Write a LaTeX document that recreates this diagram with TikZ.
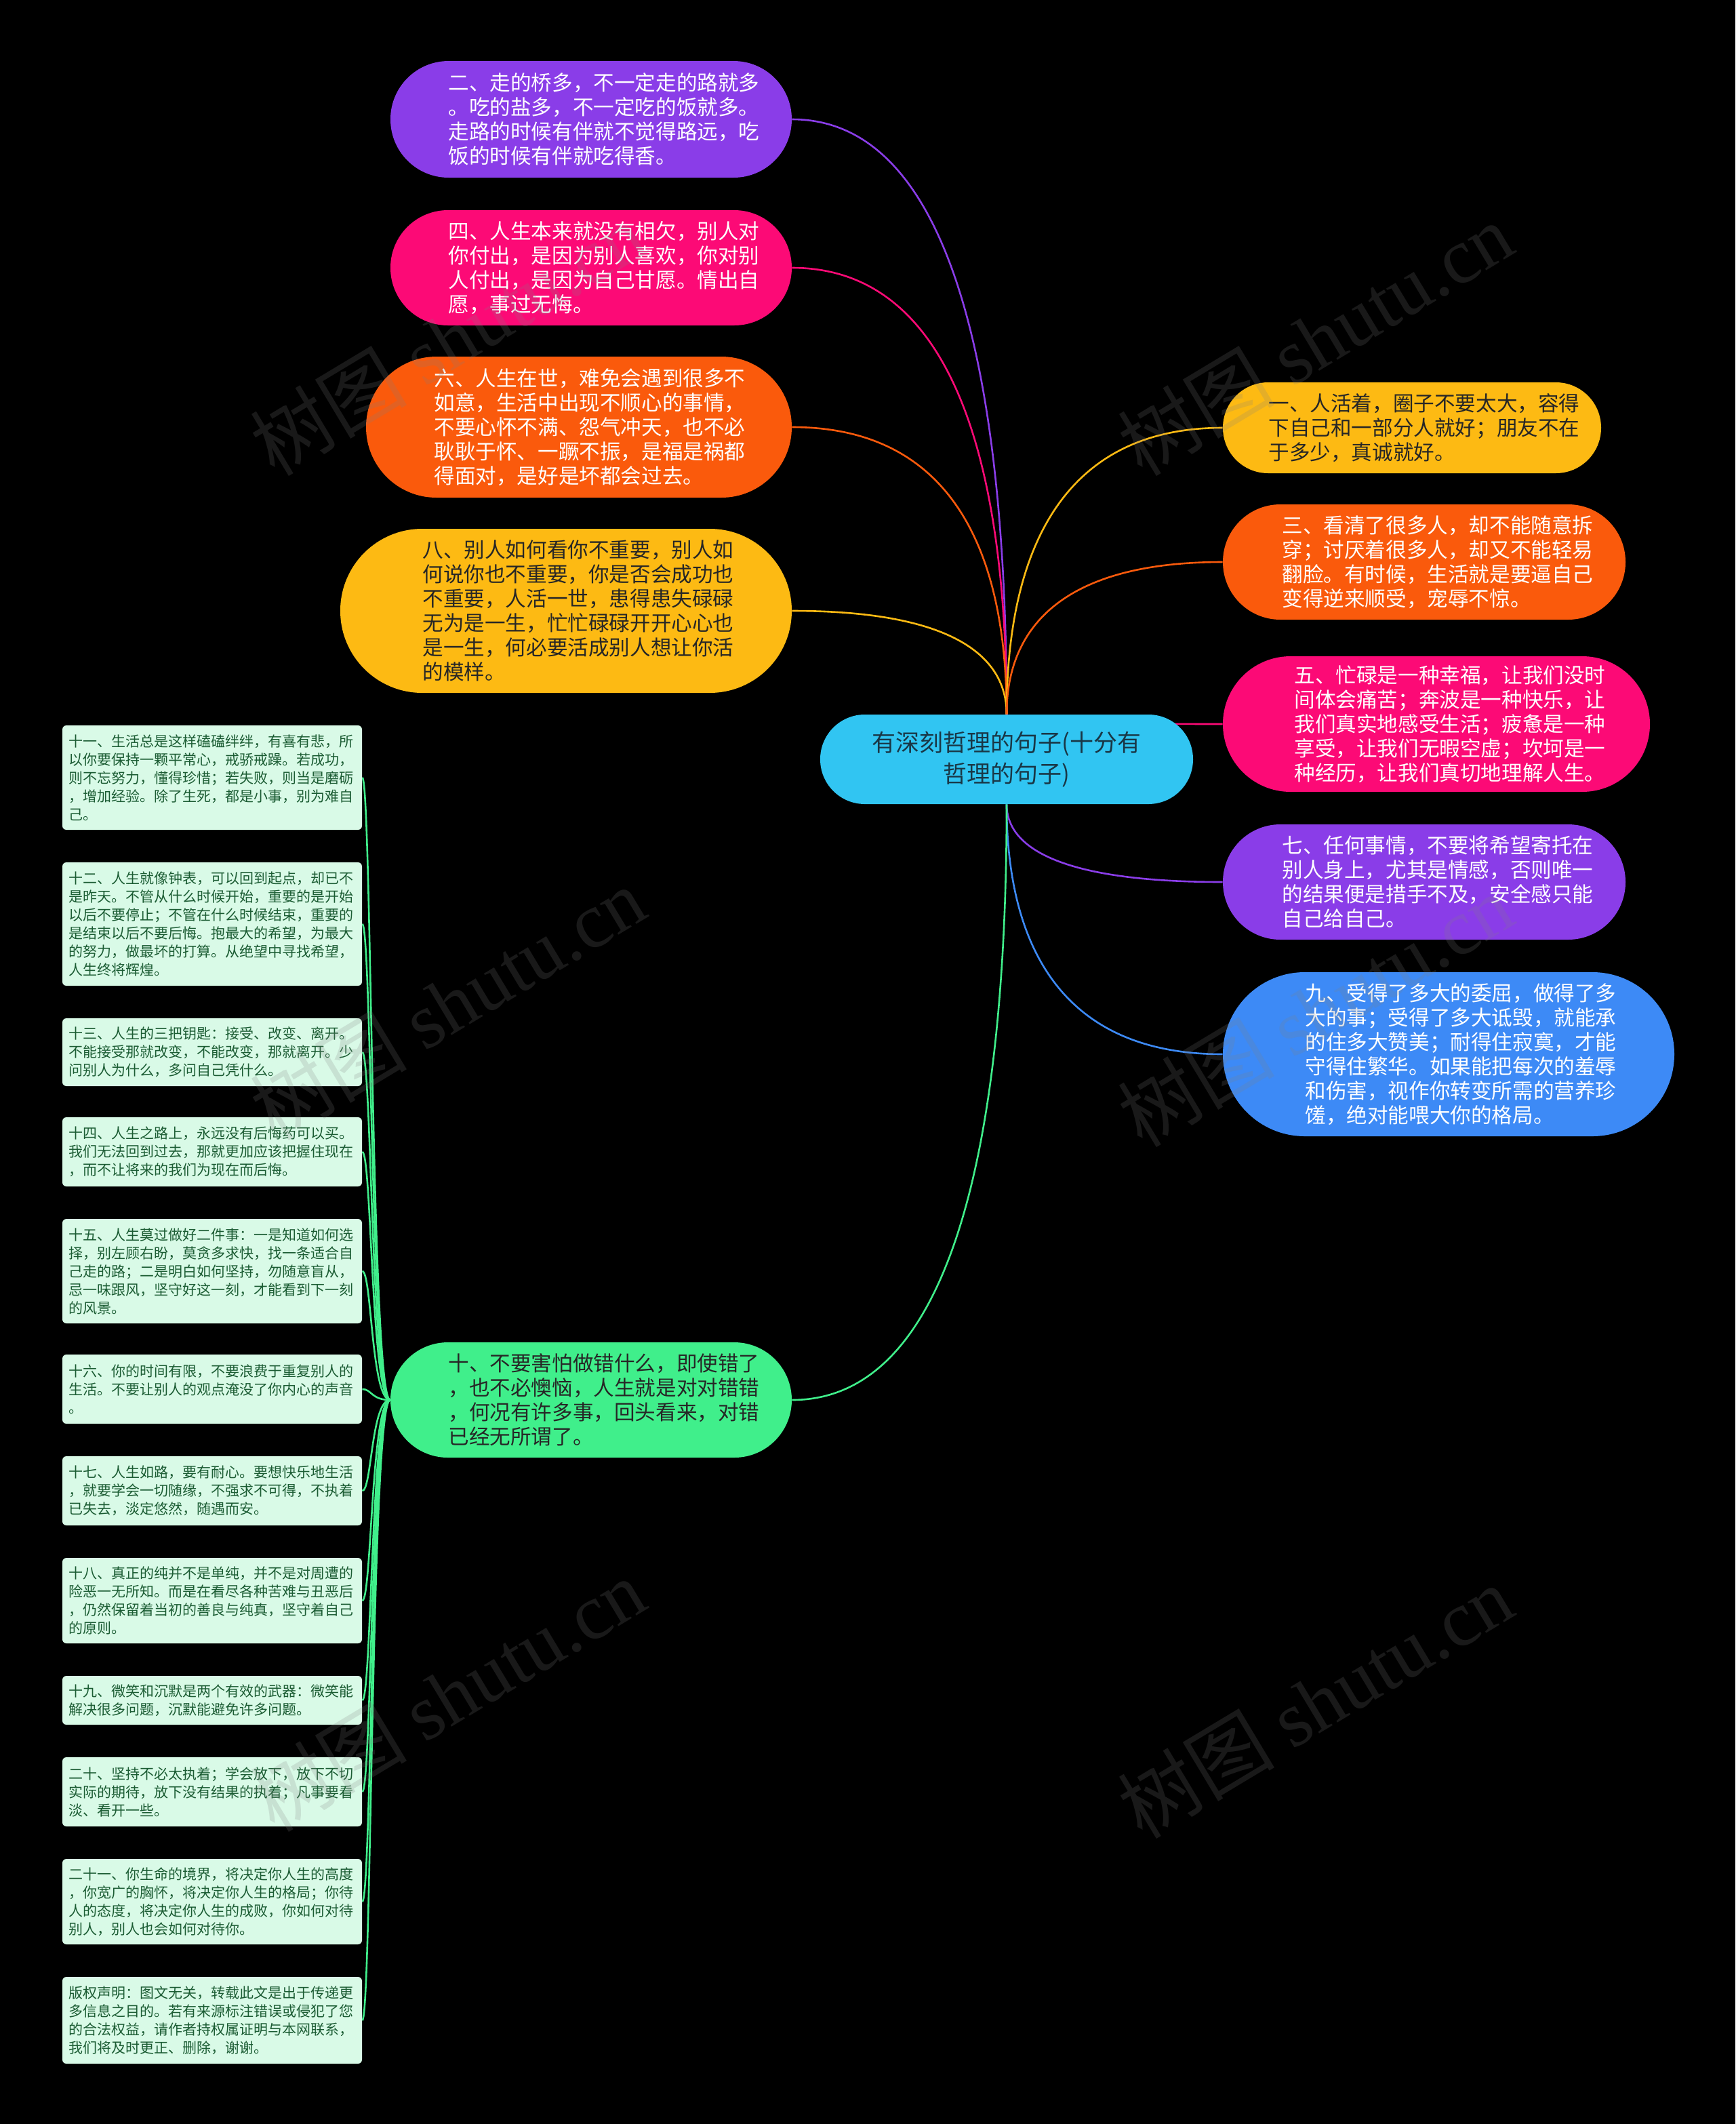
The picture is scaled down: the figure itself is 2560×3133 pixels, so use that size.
\documentclass[tikz,border=0pt]{standalone}
\usepackage{fontspec}
\setmainfont{Noto Sans CJK SC}
\newfontfamily\cjk{Noto Sans CJK SC}
\newfontfamily\wmser{Liberation Serif}
\usetikzlibrary{calc}
\pgfdeclarelayer{back}
\pgfdeclarelayer{bg}
\pgfdeclarelayer{fg}
\pgfsetlayers{back,bg,main,fg}
\definecolor{cPur}{HTML}{8A3DE8}
\definecolor{cPink}{HTML}{FC0A76}
\definecolor{cOra}{HTML}{FA5A0C}
\definecolor{cYel}{HTML}{FDBA13}
\definecolor{cBlue}{HTML}{3D8AF6}
\definecolor{cGrn}{HTML}{40EF8B}
\definecolor{cCyan}{HTML}{31C5F2}
\definecolor{cMint}{HTML}{D9FAE7}
\definecolor{cDkG}{HTML}{1B5C33}
\definecolor{cDark}{HTML}{262626}
\definecolor{cNavy}{HTML}{193746}
\tikzset{
  bub/.style={inner sep=0pt, draw=none},
  btxt/.style={font=\cjk\fontsize{15.3}{18}\selectfont, align=left, inner sep=0pt},
  sbox/.style={fill=cMint, rounded corners=3pt, minimum width=221pt, text width=212pt,
     inner xsep=4.5pt, inner ysep=0pt, align=left, text=cDkG,
     font=\cjk\fontsize{10.5}{13.5}\selectfont},
  conn/.style={line width=1.3pt},
  wmark/.style={rotate=31, opacity=0.2, text=gray, font=\fontsize{58}{60}\selectfont, inner sep=0pt}
}
\newcommand{\mconn}[3]{%
  \path ($(#2)!0.2!(#3)$) coordinate (ca) ($(#2)!0.5!(#2 |- #3)$) coordinate (cb);
  \draw[conn, #1] (#2) .. controls (cb) and (ca |- #3) .. (#3);}
\newcommand{\sconn}[1]{%
  \draw[conn, cGrn] (b10.west) .. controls ($(b10.west)+(-28,0)$) and ($(#1.east)+(14,0)$) .. (#1.east);}
\begin{document}
\begin{tikzpicture}[x=0.5pt, y=-0.5pt]
\useasboundingbox (0,0) rectangle (2560,3133);
\begin{pgfonlayer}{back}
\fill[black] (0,0) rectangle (2560,3133);
\end{pgfonlayer}

% central node
\node[bub, fill=cCyan, minimum width=275pt, minimum height=66pt, rounded corners=32.9pt,
      text=cNavy, align=center, font=\cjk\fontsize{17.5}{23}\selectfont] (ctr) at (1485,1120)
  {有深刻哲理的句子(十分有\\哲理的句子)};

% left bubbles
\node[bub, fill=cPur, minimum width=296pt, minimum height=86pt, rounded corners=42.9pt] (b2) at (872,176) {};
\node[btxt, text=white] (b2t) at ($(b2)+(19,0)$) {二、走的桥多，不一定走的路就多\\。吃的盐多，不一定吃的饭就多。\\走路的时候有伴就不觉得路远，吃\\饭的时候有伴就吃得香。};

\node[bub, fill=cPink, minimum width=296pt, minimum height=85pt, rounded corners=42.4pt] (b4) at (872,395) {};
\node[btxt, text=white] (b4t) at ($(b4)+(19,0)$) {四、人生本来就没有相欠，别人对\\你付出，是因为别人喜欢，你对别\\人付出，是因为自己甘愿。情出自\\愿，事过无悔。};

\node[bub, fill=cOra, minimum width=314pt, minimum height=104pt, rounded corners=51.9pt] (b6) at (854,630) {};
\node[btxt, text=white] (b6t) at ($(b6)+(16,0)$) {六、人生在世，难免会遇到很多不\\如意，生活中出现不顺心的事情，\\不要心怀不满、怨气冲天，也不必\\耿耿于怀、一蹶不振，是福是祸都\\得面对，是好是坏都会过去。};

\node[bub, fill=cYel, minimum width=333pt, minimum height=121pt, rounded corners=60.4pt] (b8) at (835,901) {};
\node[btxt, text=cDark] (b8t) at ($(b8)+(18,0)$) {八、别人如何看你不重要，别人如\\何说你也不重要，你是否会成功也\\不重要，人活一世，患得患失碌碌\\无为是一生，忙忙碌碌开开心心也\\是一生，何必要活成别人想让你活\\的模样。};

% right bubbles
\node[bub, fill=cYel, minimum width=279pt, minimum height=67pt, rounded corners=33.4pt] (b1) at (2083,631) {};
\node[btxt, text=cDark] (b1t) at ($(b1)+(18,0)$) {一、人活着，圈子不要太大，容得\\下自己和一部分人就好；朋友不在\\于多少，真诚就好。};

\node[bub, fill=cOra, minimum width=297pt, minimum height=85pt, rounded corners=42.4pt] (b3) at (2101,829) {};
\node[btxt, text=white] (b3t) at ($(b3)+(20,0)$) {三、看清了很多人，却不能随意拆\\穿；讨厌着很多人，却又不能轻易\\翻脸。有时候，生活就是要逼自己\\变得逆来顺受，宠辱不惊。};

\node[bub, fill=cPink, minimum width=315pt, minimum height=100pt, rounded corners=49.9pt] (b5) at (2119,1068) {};
\node[btxt, text=white] (b5t) at ($(b5)+(20,0)$) {五、忙碌是一种幸福，让我们没时\\间体会痛苦；奔波是一种快乐，让\\我们真实地感受生活；疲惫是一种\\享受，让我们无暇空虚；坎坷是一\\种经历，让我们真切地理解人生。};

\node[bub, fill=cPur, minimum width=297pt, minimum height=85pt, rounded corners=42.4pt] (b7) at (2101,1301) {};
\node[btxt, text=white] (b7t) at ($(b7)+(20,0)$) {七、任何事情，不要将希望寄托在\\别人身上，尤其是情感，否则唯一\\的结果便是措手不及，安全感只能\\自己给自己。};

\node[bub, fill=cBlue, minimum width=333pt, minimum height=121pt, rounded corners=60.4pt] (b9) at (2137,1555) {};
\node[btxt, text=white] (b9t) at ($(b9)+(18,0)$) {九、受得了多大的委屈，做得了多\\大的事；受得了多大诋毁，就能承\\的住多大赞美；耐得住寂寞，才能\\守得住繁华。如果能把每次的羞辱\\和伤害，视作你转变所需的营养珍\\馐，绝对能喂大你的格局。};

% ten
\node[bub, fill=cGrn, minimum width=296pt, minimum height=85pt, rounded corners=42.4pt] (b10) at (872,2065) {};
\node[btxt, text=cDark] (b10t) at ($(b10)+(19,0)$) {十、不要害怕做错什么，即使错了\\，也不必懊恼，人生就是对对错错\\，何况有许多事，回头看来，对错\\已经无所谓了。};

% small boxes
\node[sbox, minimum height=77pt] (s11) at (313,1147) {十一、生活总是这样磕磕绊绊，有喜有悲，所\\以你要保持一颗平常心，戒骄戒躁。若成功，\\则不忘努力，懂得珍惜；若失败，则当是磨砺\\，增加经验。除了生死，都是小事，别为难自\\己。};
\node[sbox, minimum height=91pt] (s12) at (313,1363) {十二、人生就像钟表，可以回到起点，却已不\\是昨天。不管从什么时候开始，重要的是开始\\以后不要停止；不管在什么时候结束，重要的\\是结束以后不要后悔。抱最大的希望，为最大\\的努力，做最坏的打算。从绝望中寻找希望，\\人生终将辉煌。};
\node[sbox, minimum height=50pt] (s13) at (313,1552) {十三、人生的三把钥匙：接受、改变、离开。\\不能接受那就改变，不能改变，那就离开。少\\问别人为什么，多问自己凭什么。};
\node[sbox, minimum height=51pt] (s14) at (313,1699) {十四、人生之路上，永远没有后悔药可以买。\\我们无法回到过去，那就更加应该把握住现在\\，而不让将来的我们为现在而后悔。};
\node[sbox, minimum height=77pt] (s15) at (313,1875) {十五、人生莫过做好二件事：一是知道如何选\\择，别左顾右盼，莫贪多求快，找一条适合自\\己走的路；二是明白如何坚持，勿随意盲从，\\忌一味跟风，坚守好这一刻，才能看到下一刻\\的风景。};
\node[sbox, minimum height=51pt] (s16) at (313,2049) {十六、你的时间有限，不要浪费于重复别人的\\生活。不要让别人的观点淹没了你内心的声音\\。};
\node[sbox, minimum height=51pt] (s17) at (313,2199) {十七、人生如路，要有耐心。要想快乐地生活\\，就要学会一切随缘，不强求不可得，不执着\\已失去，淡定悠然，随遇而安。};
\node[sbox, minimum height=63pt] (s18) at (313,2361) {十八、真正的纯并不是单纯，并不是对周遭的\\险恶一无所知。而是在看尽各种苦难与丑恶后\\，仍然保留着当初的善良与纯真，坚守着自己\\的原则。};
\node[sbox, minimum height=36pt] (s19) at (313,2508) {十九、微笑和沉默是两个有效的武器：微笑能\\解决很多问题，沉默能避免许多问题。};
\node[sbox, minimum height=51pt] (s20) at (313,2643) {二十、坚持不必太执着；学会放下，放下不切\\实际的期待，放下没有结果的执着；凡事要看\\淡、看开一些。};
\node[sbox, minimum height=63pt] (s21) at (313,2805) {二十一、你生命的境界，将决定你人生的高度\\，你宽广的胸怀，将决定你人生的格局；你待\\人的态度，将决定你人生的成败，你如何对待\\别人，别人也会如何对待你。};
\node[sbox, minimum height=64pt] (s22) at (313,2980) {版权声明：图文无关，转载此文是出于传递更\\多信息之目的。若有来源标注错误或侵犯了您\\的合法权益，请作者持权属证明与本网联系，\\我们将及时更正、删除，谢谢。};

% connectors
\begin{pgfonlayer}{bg}
\mconn{cPur}{ctr.north}{b2.east}
\mconn{cPink}{ctr.north}{b4.east}
\mconn{cOra}{ctr.north}{b6.east}
\mconn{cYel}{ctr.north}{b8.east}
\mconn{cYel}{ctr.north}{b1.west}
\mconn{cOra}{ctr.north}{b3.west}
\mconn{cPink}{ctr.north}{b5.west}
\mconn{cPur}{ctr.south}{b7.west}
\mconn{cBlue}{ctr.south}{b9.west}
\mconn{cGrn}{ctr.south}{b10.east}
\sconn{s11}\sconn{s12}\sconn{s13}\sconn{s14}\sconn{s15}\sconn{s16}
\sconn{s17}\sconn{s18}\sconn{s19}\sconn{s20}\sconn{s21}\sconn{s22}
\end{pgfonlayer}

% watermarks
\begin{pgfonlayer}{fg}
\node[wmark] (w1) at (660,500) {\cjk 树图 \wmser shutu.cn};
\node[wmark] (w2) at (1940,500) {\cjk 树图 \wmser shutu.cn};
\node[wmark] (w3) at (660,1480) {\cjk 树图 \wmser shutu.cn};
\node[wmark] (w4) at (1940,1490) {\cjk 树图 \wmser shutu.cn};
\node[wmark] (w5) at (660,2500) {\cjk 树图 \wmser shutu.cn};
\node[wmark] (w6) at (1940,2510) {\cjk 树图 \wmser shutu.cn};
\end{pgfonlayer}
\end{tikzpicture}
\end{document}
